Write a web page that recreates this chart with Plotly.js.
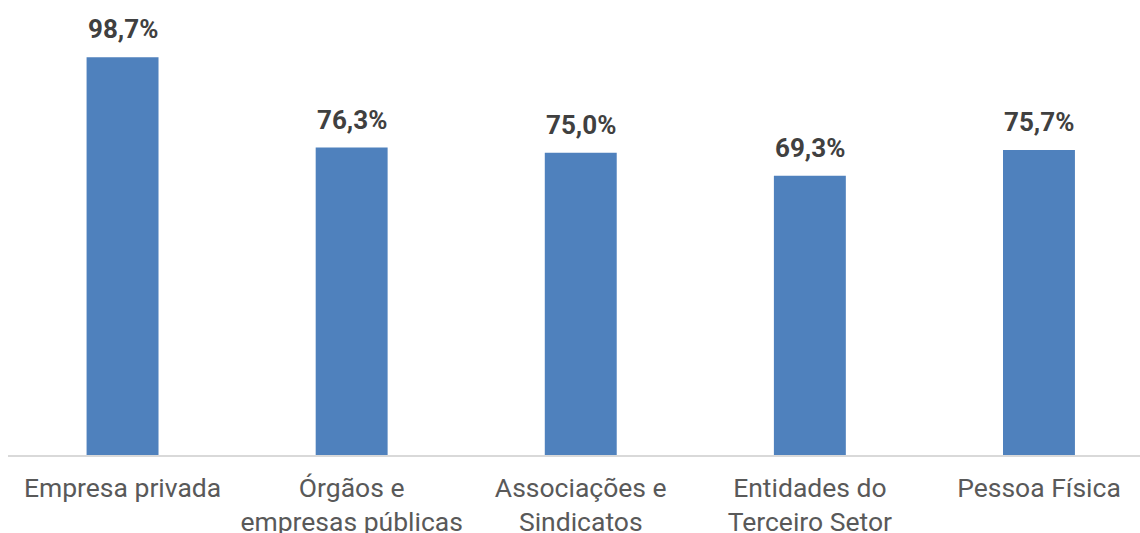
<!DOCTYPE html>
<html>
<head>
<meta charset="utf-8">
<script src="https://cdn.plot.ly/plotly-3.0.1.min.js"></script>
<style>html,body{margin:0;padding:0;background:#fff;}#chart{width:1140px;height:533px;}</style>
</head>
<body>
<div id="chart"></div>
<script>
const categories = ["Empresa privada", "Órgãos e<br>empresas públicas", "Associações e<br>Sindicatos", "Entidades do<br>Terceiro Setor", "Pessoa Física"];
const values = [98.7, 76.3, 75.0, 69.3, 75.7];
const valueLabels = ["98,7%", "76,3%", "75,0%", "69,3%", "75,7%"];

const trace = {
  type: 'bar',
  x: categories,
  y: values,
  marker: {color: '#4F81BD'},
  width: 0.314,
  hoverinfo: 'none'
};

const annotations = categories.map((c, i) => ({
  x: c, y: values[i], text: '<b>' + valueLabels[i] + '</b>',
  xref: 'x', yref: 'y', showarrow: false, yanchor: 'bottom', yshift: 11,
  font: {family: 'Roboto', size: 26, color: '#404040'}
}));

const layout = {
  width: 1140, height: 533,
  margin: {l: 8, r: 0, t: 0, b: 78},
  paper_bgcolor: '#ffffff', plot_bgcolor: '#ffffff',
  showlegend: false,
  font: {family: 'Roboto', color: '#595959'},
  xaxis: {
    type: 'category',
    range: [-0.5, 4.441],
    showline: true, linecolor: '#D9D9D9', linewidth: 2,
    showgrid: false, zeroline: false, ticks: '',
    ticklabelstandoff: 8,
    tickfont: {family: 'Roboto', size: 26.5, color: '#595959'},
    fixedrange: true
  },
  yaxis: {
    range: [0, 112.9],
    showticklabels: false, showgrid: false, zeroline: false, showline: false,
    fixedrange: true
  },
  annotations: annotations
};

Plotly.newPlot('chart', [trace], layout, {displayModeBar: false, staticPlot: true});
</script>
</body>
</html>
